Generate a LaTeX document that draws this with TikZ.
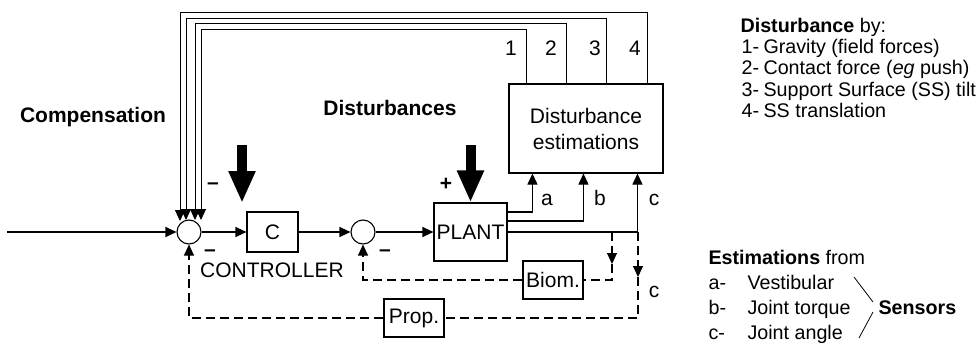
\documentclass[tikz,border=0pt]{standalone}
\usepackage{fontspec}
\setmainfont{Liberation Sans}
\usetikzlibrary{arrows.meta,calc}
\begin{document}
\begin{tikzpicture}[x=1pt,y=-1pt,line width=1.1pt,
  >={Triangle[length=11pt,width=10pt]},
  font=\fontsize{21}{26}\selectfont,
  blk/.style={draw,inner sep=0pt},
  sumj/.style={draw,circle,minimum size=24pt,inner sep=0pt},
  dsh/.style={dash pattern=on 9pt off 5pt},
  big/.style={line width=10pt,-{Triangle[length=32pt,width=25pt]}},
  lbl/.style={inner sep=0pt,anchor=base},
  lst/.style={inner sep=0pt,anchor=base west,font=\fontsize{19.7}{24}\selectfont},
  thin/.style={line width=0.8pt}]
\useasboundingbox (0,0) rectangle (977,343);
% blocks
\node[sumj] (s1) at (189,232) {};
\node[blk,minimum width=51pt,minimum height=40pt] (C) at (272.5,232) {C};
\node[sumj] (s2) at (363,232) {};
\node[blk,minimum width=73pt,minimum height=58pt] (P) at (470.5,232) {PLANT};
\node[blk,minimum width=154pt,minimum height=89pt,align=center] (E) at (586,128.5) {Disturbance\\estimations};
\node[blk,minimum width=60pt,minimum height=38pt] (B) at (553,280) {Biom.};
\node[blk,minimum width=60pt,minimum height=38pt] (Pr) at (414,318) {Prop.};
% forward path
\coordinate (in) at (7,232);
\draw[->] (in) -- (s1);
\draw[->] (s1) -- (C);
\draw[->] (C) -- (s2);
\draw[->] (s2) -- (P);
% disturbances
\coordinate (dA) at (242,145); \coordinate (dAe) at (242,203);
\draw[big] (dA) -- (dAe);
\coordinate (dB) at (470.5,145);
\draw[big] (dB) -- (P.north);
% sensor outputs
\draw[->] ([yshift=20pt]P.east) -| ([xshift=24pt]E.south west);
\draw[->] ([yshift=11pt]P.east) -| ([xshift=75pt]E.south west);
\draw[->] (P.east) -| ([xshift=129pt]E.south west);
\node[lbl] (la) at (547,205) {a};
\node[lbl] (lb) at (600,205) {b};
\node[lbl] (lc) at (654,205) {c};
% dashed feedback
\coordinate (bj) at (612,232);
\coordinate (bm) at (612,264);
\coordinate (bc) at (612,280);
\draw[dsh,->] (bj) -- (bm);
\draw[dsh] (bm) -- (bc) -- (B.east);
\draw[dsh,->] (B.west) -| (s2.south);
\coordinate (pj) at (638,232);
\coordinate (pm) at (638,277);
\coordinate (pc) at (638,318);
\draw[dsh,->] (pj) -- (pm);
\draw[dsh] (pm) -- (pc) -- (Pr.east);
\draw[dsh,->] (Pr.west) -| (s1.south);
\node[lbl] (lc2) at (654,297) {c};
% compensation loops
\coordinate (k1) at (201,220);
\coordinate (k2) at (195,220);
\coordinate (k3) at (186,220);
\coordinate (k4) at (180,221);
\draw[->,line width=1pt] ([xshift=18pt]E.north west) -- ++(0,-54) -| (k1);
\draw[->,line width=1pt] ([xshift=58pt]E.north west) -- ++(0,-60) -| (k2);
\draw[->,line width=1pt] ([xshift=98pt]E.north west) -- ++(0,-65) -| (k3);
\draw[->,line width=1pt] ([xshift=139pt]E.north west) -- ++(0,-71) -| (k4);
\node[lbl] (n1) at (511,55) {1};
\node[lbl] (n2) at (551,55) {2};
\node[lbl] (n3) at (595,55) {3};
\node[lbl] (n4) at (635,55) {4};
% signs and labels
\node[lbl] (m1) at (213,189) {\textbf{–}};
\node[lbl] (p1) at (446,190) {\textbf{+}};
\node[lbl] (m2) at (210,256) {\textbf{–}};
\node[lbl] (m3) at (385,256) {\textbf{–}};
\node[lbl] (ctl) at (272,277) {CONTROLLER};
\node[lbl] (comp) at (93,122.7) {\textbf{Compensation}};
\node[lbl] (dist) at (390,115) {\textbf{Disturbances}};
% legend: disturbances
\node[lst] (h1) at (740,32) {\textbf{Disturbance} by:};
\node[lst] (i1) at (741,53.3) {1-};
\node[lst] (t1) at (763,53.3) {Gravity (field forces)};
\node[lst] (i2) at (741,74.6) {2-};
\node[lst] (t2) at (763,74.6) {Contact force (\textit{eg} push)};
\node[lst] (i3) at (741,96) {3-};
\node[lst] (t3) at (763,96) {Support Surface (SS) tilt};
\node[lst] (i4) at (741,117) {4-};
\node[lst] (t4) at (763,117) {SS translation};
% legend: estimations
\node[lst] (h2) at (708,264) {\textbf{Estimations} from};
\node[lst] (ja) at (708,289) {a-};
\node[lst] (ua) at (747,289) {Vestibular};
\node[lst] (jb) at (708,314) {b-};
\node[lst] (ub) at (747,314) {Joint torque};
\node[lst] (jc) at (708,339) {c-};
\node[lst] (uc) at (747,339) {Joint angle};
\node[lst] (sens) at (878,314) {\textbf{Sensors}};
\coordinate (r1) at (854,277); \coordinate (r2) at (873,302);
\coordinate (r3) at (873,312); \coordinate (r4) at (859,338);
\draw[thin] (r1) -- (r2);
\draw[thin] (r3) -- (r4);
\end{tikzpicture}
\end{document}
